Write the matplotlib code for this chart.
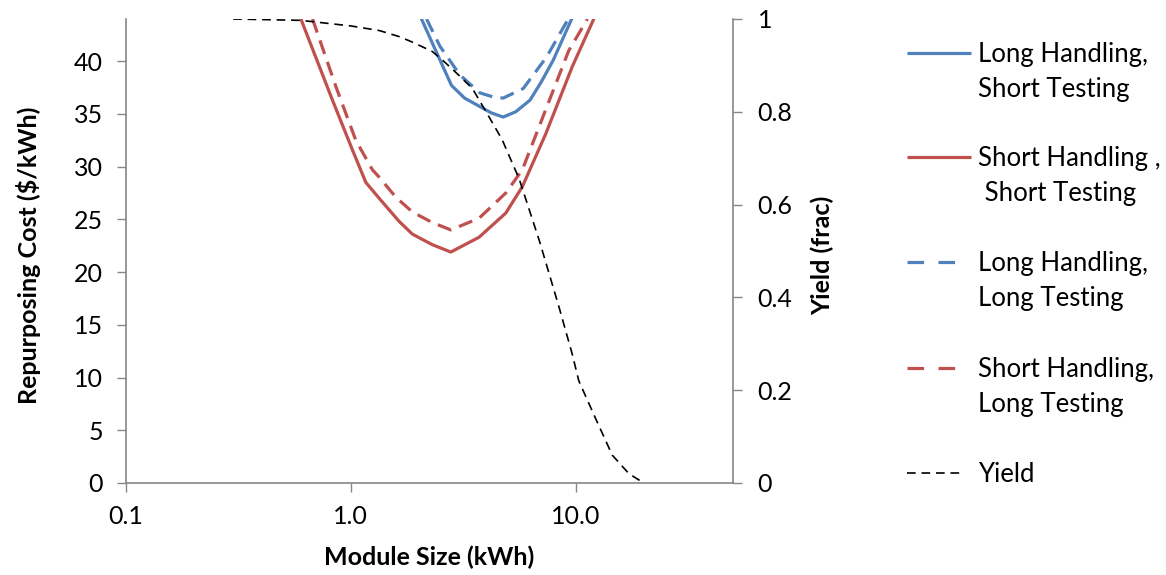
import matplotlib
matplotlib.use("Agg")
import matplotlib.pyplot as plt
from matplotlib.lines import Line2D
from matplotlib.ticker import FixedLocator, FixedFormatter, NullLocator

plt.rcParams['font.family'] = ['Lato', 'DejaVu Sans']

# module size (kWh) and repurposing cost ($/kWh)
lh_st_x = [2.06, 2.49, 2.80, 3.2, 3.74, 4.2, 4.75, 5.4, 6.25, 7.0, 7.93, 9.57]
lh_st_y = [44, 40.1, 37.7, 36.5, 35.7, 35.1, 34.7, 35.2, 36.3, 38.0, 40.1, 44]

sh_st_x = [0.60, 0.829, 1.016, 1.166, 1.336, 1.64, 1.877, 2.3, 2.78, 3.71, 4.88, 5.78, 7.34, 9.64, 12.0]
sh_st_y = [44, 36.3, 31.6, 28.5, 27.0, 24.8, 23.6, 22.6, 21.9, 23.3, 25.6, 28.1, 33.1, 39.5, 44]

lh_lt_x = [2.17, 2.49, 3.05, 3.74, 4.29, 4.75, 5.83, 7.41, 9.24]
lh_lt_y = [44, 41.4, 38.7, 37.0, 36.6, 36.5, 37.4, 40.4, 44]

sh_lt_x = [0.676, 0.858, 1.052, 1.247, 1.336, 1.585, 1.877, 2.3, 2.78, 3.71, 4.88, 5.78, 7.34, 9.29, 11.24]
sh_lt_y = [44, 37.6, 32.5, 29.7, 29.0, 27.1, 25.7, 24.7, 24.0, 25.1, 27.5, 29.7, 35.4, 41.0, 44]

yield_x = [0.3, 0.6, 1.0, 1.34, 1.64, 1.88, 2.3, 2.64, 3.0, 3.47, 4.1, 4.7, 5.6, 6.9, 8.4, 9.6,
           10.3, 12.2, 14.5, 17.2, 20.0]
yield_y = [1.0, 0.997, 0.985, 0.975, 0.962, 0.95, 0.93, 0.905, 0.88, 0.85, 0.79, 0.74, 0.655,
           0.52, 0.38, 0.28, 0.22, 0.14, 0.06, 0.02, 0.0]

labels = ["Long Handling,\nShort Testing", "Short Handling ,\n Short Testing",
          "Long Handling,\nLong Testing", "Short Handling,\nLong Testing", "Yield"]

blue = '#4F81BD'
red = '#C0504D'
grey = '#868686'
fs = 18
W, H = 1166, 575

fig = plt.figure(figsize=(11.66, 5.75), dpi=100)
ax = fig.add_axes([0.1078, 0.16, 0.5211, 0.807])
ax2 = ax.twinx()

styles = [
    dict(color=blue, lw=2.3, solid_capstyle='round'),
    dict(color=red, lw=2.3, solid_capstyle='round'),
    dict(color=blue, lw=2.3, dashes=(4.5, 2.6)),
    dict(color=red, lw=2.3, dashes=(4.5, 2.6)),
    dict(color='black', lw=1.2, dashes=(5.2, 3.5)),
]
ax.plot(lh_st_x, lh_st_y, **styles[0])
ax.plot(sh_st_x, sh_st_y, **styles[1])
ax.plot(lh_lt_x, lh_lt_y, **styles[2])
ax.plot(sh_lt_x, sh_lt_y, **styles[3])
ax2.plot(yield_x, yield_y, **styles[4])

ax.set_xscale('log')
ax.set_xlim(0.1, 50)
ax.set_ylim(0, 44)
ax2.set_ylim(0, 1)

ax.xaxis.set_major_locator(FixedLocator([0.1, 1, 10]))
ax.xaxis.set_major_formatter(FixedFormatter(['0.1', '1.0', '10.0']))
ax.xaxis.set_minor_locator(NullLocator())
ax.set_yticks(range(0, 45, 5))
ax2.set_yticks([0, 0.2, 0.4, 0.6, 0.8, 1.0])
ax2.set_yticklabels(['0', '0.2', '0.4', '0.6', '0.8', '1'])

for a in (ax, ax2):
    for s in a.spines.values():
        s.set_visible(False)
    a.tick_params(labelsize=fs, length=6.5, width=1, color=grey, direction='out', pad=10)
ax.tick_params(axis='x', pad=9)
ax2.tick_params(pad=11)
ax.spines['left'].set_visible(True)
ax.spines['bottom'].set_visible(True)
ax2.spines['right'].set_visible(True)
for s in (ax.spines['left'], ax.spines['bottom'], ax2.spines['right']):
    s.set_color(grey)
    s.set_linewidth(1.2)

ax.set_xlabel('Module Size (kWh)', fontsize=fs, fontweight='bold')
ax.set_ylabel('Repurposing Cost ($/kWh)', fontsize=fs, fontweight='bold')
ax2.set_ylabel('Yield (frac)', fontsize=fs, fontweight='bold')
ax.xaxis.set_label_coords(0.5, -0.135)
ax.yaxis.set_label_coords(-0.139, 0.49)
ax2.yaxis.set_label_coords(1.128, 0.49)

# legend: handle sits beside the first line of each entry, as in the original
entry_top = [53, 157, 262, 368, 473]
handle_end = [971, 971, 957, 957, 960]
legend_dash = [None, None, (5.2, 4.5), (5.2, 4.5), (5.2, 3.5)]
for lab, y0, x1, st, dsh in zip(labels, entry_top, handle_end, styles, legend_dash):
    kw = dict(st)
    if dsh is not None:
        kw['dashes'] = dsh
    kw['solid_capstyle'] = 'butt'
    fig.add_artist(Line2D([907 / W, x1 / W], [1 - y0 / H] * 2, **kw))
    for k, part in enumerate(lab.split('\n')):
        fig.text(978 / W, 1 - (y0 + 35 * k + 9) / H, part, fontsize=18.5,
                 va='baseline', ha='left')

fig.savefig('out.png', dpi=100)
